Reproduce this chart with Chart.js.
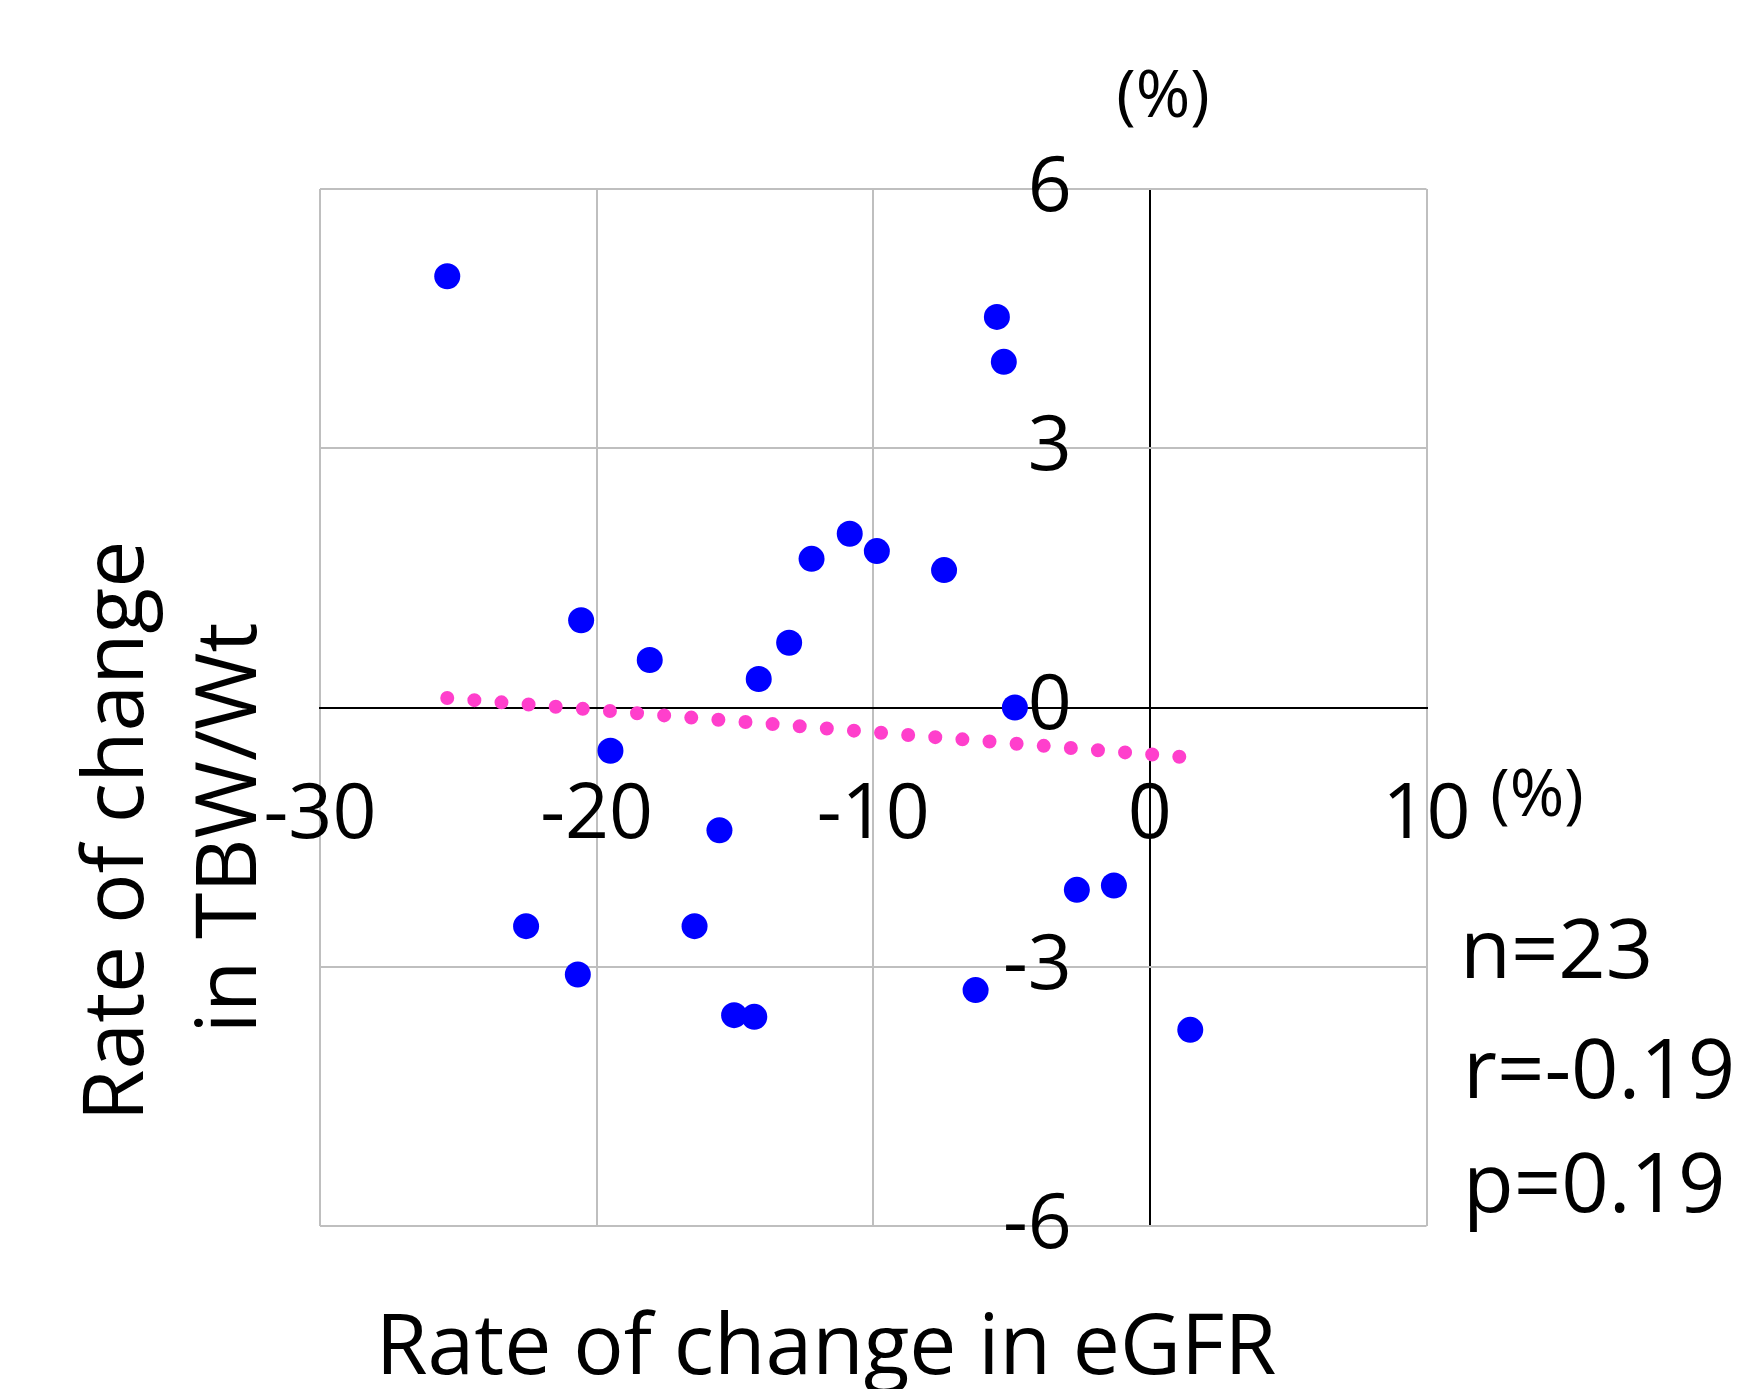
<!DOCTYPE html>
<html>
<head>
<meta charset="utf-8">
<script src="https://cdn.jsdelivr.net/npm/chart.js@4.4.1/dist/chart.umd.min.js"></script>
<style>
html,body{margin:0;padding:0;background:#ffffff;}
#wrap{width:1763px;height:1389px;position:relative;}
canvas{display:block;}
</style>
</head>
<body>
<div id="wrap"><canvas id="c" width="1763" height="1389"></canvas></div>
<script>
// ---- data ----
const egfrChange = [-25.40, -5.53, -5.28, -10.85, -9.87, -12.23, -7.44, -20.56, -18.08, -13.04, -14.14, -4.88,
                    -19.50, -15.56, -2.64, -1.30, -22.55, -16.46, -20.68, -6.30, -15.03, -14.30, 1.46];
const tbwChange  = [4.99, 4.52, 4.00, 2.01, 1.81, 1.72, 1.59, 1.01, 0.55, 0.75, 0.33, 0.00,
                    -0.50, -1.42, -2.11, -2.06, -2.53, -2.53, -3.09, -3.27, -3.56, -3.58, -3.73];
const trendX = [-25.4, 1.46];
const trendY = [0.11, -0.58];
const xTicks = [-30, -20, -10, 0, 10];
const yTicks = [-6, -3, 0, 3, 6];
const xTitle = 'Rate of change in eGFR';
const yTitleLines = ['Rate of change', 'in TBW/Wt'];
const unitLabel = '(%)';
const statLines = ['n=23', 'r=-0.19', 'p=0.19'];

// ---- chart ----
const FONT = '"Open Sans", "Lato", sans-serif';
const gridColor = ctx => (ctx.tick && ctx.tick.value === 0) ? '#000000' : '#BFBFBF';

const textPlugin = {
  id: 'textPlugin',
  afterDraw(chart) {
    const ctx = chart.ctx;
    ctx.save();
    ctx.fillStyle = '#000000';
    // unit labels
    ctx.font = '66px ' + FONT;
    ctx.textAlign = 'center';
    ctx.textBaseline = 'middle';
    ctx.fillText(unitLabel, 1163, 98);
    ctx.fillText(unitLabel, 1537, 797);
    // stats
    ctx.font = '83px ' + FONT;
    ctx.textAlign = 'left';
    ctx.textBaseline = 'alphabetic';
    const sx = [1460, 1463, 1463];
    const sy = [978, 1098, 1212];
    statLines.forEach((t, i) => ctx.fillText(t, sx[i], sy[i]));
    // x title
    ctx.font = '84px ' + FONT;
    ctx.textAlign = 'center';
    ctx.fillText(xTitle, 826, 1374);
    // y title
    ctx.save();
    ctx.translate(143, 831);
    ctx.rotate(-Math.PI / 2);
    ctx.fillText(yTitleLines[0], 0, 0);
    ctx.restore();
    ctx.save();
    ctx.translate(256, 828);
    ctx.rotate(-Math.PI / 2);
    ctx.fillText(yTitleLines[1], 0, 0);
    ctx.restore();
    ctx.restore();
  }
};

new Chart(document.getElementById('c'), {
  type: 'scatter',
  data: {
    datasets: [
      {
        type: 'line',
        data: trendX.map((x, i) => ({x: x, y: trendY[i]})),
        borderColor: '#FF3FCC',
        borderWidth: 14,
        borderDash: [0, 27.2],
        borderCapStyle: 'round',
        pointRadius: 0,
        fill: false,
        order: 2
      },
      {
        data: egfrChange.map((x, i) => ({x: x, y: tbwChange[i]})),
        backgroundColor: '#0000FF',
        borderColor: '#0000FF',
        borderWidth: 0,
        pointRadius: 13,
        order: 1
      }
    ]
  },
  options: {
    responsive: false,
    animation: false,
    devicePixelRatio: 1,
    events: [],
    layout: {padding: {left: 320, right: 336.5, top: 189, bottom: 163}},
    plugins: {legend: {display: false}, tooltip: {enabled: false}, title: {display: false}},
    scales: {
      x: {
        type: 'linear',
        min: -30, max: 10,
        position: {y: 0},
        afterBuildTicks: s => { s.ticks = xTicks.map(v => ({value: v})); },
        grid: {color: gridColor, lineWidth: 2, drawTicks: false},
        border: {display: true, color: '#000000', width: 2},
        ticks: {color: '#000000', font: {family: FONT, size: 77}, padding: 62, maxRotation: 0, autoSkip: false}
      },
      y: {
        type: 'linear',
        min: -6, max: 6,
        // labels sit to the left of the zero line; the zero line itself is the black x-grid line at 0
        position: {x: -2.82},
        afterBuildTicks: s => { s.ticks = yTicks.map(v => ({value: v})); },
        grid: {color: gridColor, lineWidth: 2, drawTicks: false},
        border: {display: false},
        ticks: {color: '#000000', font: {family: FONT, size: 77}, autoSkip: false}
      }
    }
  },
  plugins: [textPlugin]
});
</script>
</body>
</html>
